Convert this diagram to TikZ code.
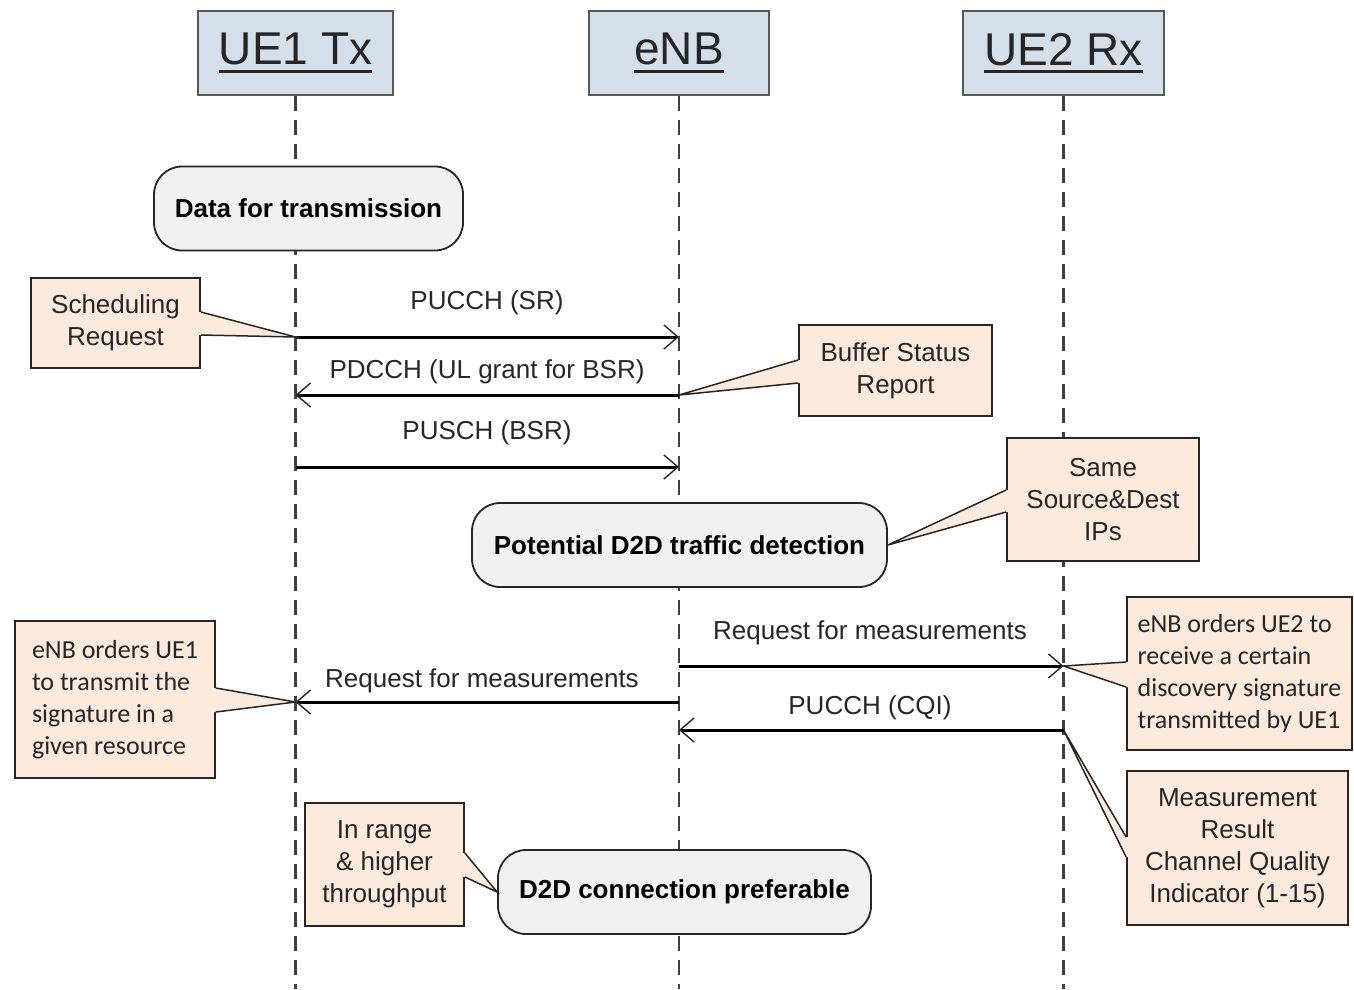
\documentclass[tikz,border=0pt]{standalone}
\usepackage{fontspec}
\setmainfont{Liberation Sans}
\newfontfamily\calfont{Carlito}
\usetikzlibrary{arrows.meta,calc}

\definecolor{hdrfill}{HTML}{D5DFEA}
\definecolor{hdrline}{HTML}{595959}
\definecolor{boxfill}{HTML}{F1F1F1}
\definecolor{notefill}{HTML}{FCEADC}
\definecolor{inkdark}{HTML}{262626}
\definecolor{lifegray}{HTML}{404040}

% underlined header title with a heavy bar
\newcommand{\hdul}[1]{\setbox0\hbox{#1}\rlap{\rule[-8pt]{\wd0}{2.6pt}}\box0}

% callout tail: base points #1,#2 on the box edge, tip #3, #4 = small inward shift
\newcommand{\notetail}[4]{%
  \fill[notefill] (#1) -- (#3) -- (#2) -- ($(#2)+(#4)$) -- ($(#1)+(#4)$) -- cycle;
  \draw[ptr] (#1) -- (#3) -- (#2);}

\tikzset{
  hdr/.style={draw=hdrline, line width=2.4pt, fill=hdrfill, minimum height=84pt,
    inner sep=0pt, font=\fontsize{46}{50}\selectfont, text=inkdark},
  event/.style={draw=inkdark, line width=1.8pt, fill=boxfill, rounded corners=28pt,
    minimum height=84pt, inner sep=0pt, font=\bfseries\fontsize{26}{32}\selectfont, text=black},
  note/.style={draw=inkdark, line width=1.8pt, fill=notefill, inner sep=0pt,
    font=\fontsize{26}{32}\selectfont, text=inkdark, align=center},
  calnote/.style={note, font=\calfont\fontsize{26}{32}\selectfont, align=left},
  lline/.style={draw=lifegray, line width=2.2pt, dash pattern=on 15pt off 9pt},
  msg/.style={draw=black, line width=3pt,
    -{Straight Barb[length=14pt,width=24pt,line width=1.4pt,color=inkdark]}},
  msglabel/.style={anchor=base, font=\fontsize{26}{32}\selectfont, text=inkdark, inner sep=0pt},
  ptr/.style={draw=inkdark, line width=1.5pt, line join=miter},
}

\begin{document}
\begin{tikzpicture}[x=1pt,y=-1pt]
\useasboundingbox (0,0) rectangle (1354,989);
\coordinate (bot) at (0,989);

% participants
\node[hdr, minimum width=195pt] (ue1) at (295.5,53) {\hdul{UE1 Tx}};
\node[hdr, minimum width=180pt] (enb) at (679,53) {\hdul{eNB}};
\node[hdr, minimum width=201pt] (ue2) at (1063.5,53) {\hdul{UE2 Rx}};

% lifelines
\draw[lline] (ue1.south) -- (ue1.south |- bot);
\draw[lline] (enb.south) -- (enb.south |- bot);
\draw[lline] (ue2.south) -- (ue2.south |- bot);

% message end points on the lifelines
\coordinate (a1) at (ue1.south |- 0,337);  \coordinate (b1) at (enb.south |- 0,337);
\coordinate (a2) at (ue1.south |- 0,395);  \coordinate (b2) at (enb.south |- 0,395);
\coordinate (a3) at (ue1.south |- 0,467);  \coordinate (b3) at (enb.south |- 0,467);
\coordinate (b4) at (enb.south |- 0,666);  \coordinate (c4) at (ue2.south |- 0,666);
\coordinate (a5) at (ue1.south |- 0,702);  \coordinate (b5) at (enb.south |- 0,702);
\coordinate (b6) at (enb.south |- 0,730);  \coordinate (c6) at (ue2.south |- 0,730);

% messages
\draw[msg] (a1) -- (b1);
\node[msglabel] (l1) at (487,309.5) {PUCCH (SR)};
\draw[msg] (b2) -- (a2);
\node[msglabel] (l2) at (487,378.5) {PDCCH (UL grant for BSR)};
\draw[msg] (a3) -- (b3);
\node[msglabel] (l3) at (487,439.5) {PUSCH (BSR)};
\draw[msg] (b4) -- (c4);
\node[msglabel] (l4) at (870,639.5) {Request for measurements};
\draw[msg] (b5) -- (a5);
\node[msglabel] (l5) at (482,687.5) {Request for measurements};
\draw[msg] (c6) -- (b6);
\node[msglabel] (l6) at (870,714.5) {PUCCH (CQI)};

% events
\node[event, minimum width=309pt] (data) at (308.5,208.5) {Data for transmission};
\node[event, minimum width=415pt] (pot) at (679.5,545) {Potential D2D traffic detection};
\node[event, minimum width=373pt] (d2d) at (684.5,892) {D2D connection preferable};

% notes
\node[note, minimum width=169pt, minimum height=90pt] (sr) at (115.5,323) {Scheduling\\Request};
\notetail{sr.east |- 0,312}{sr.east |- 0,335}{a1}{-3,0}

\node[note, minimum width=193pt, minimum height=91pt] (bsr) at (895.5,370.5) {Buffer Status\\Report};
\notetail{bsr.west |- 0,360}{bsr.west |- 0,383}{b2}{3,0}

\node[note, minimum width=192pt, minimum height=123pt] (same) at (1103,499.5) {Same\\Source\&Dest\\IPs};
\notetail{same.west |- 0,490}{same.west |- 0,512}{pot.east}{3,0}

\node[calnote, minimum width=200pt, minimum height=157pt] (ord1) at (115,699.5)
  {eNB orders UE1\\to transmit the\\signature in a\\given resource};
\notetail{ord1.east |- 0,688}{ord1.east |- 0,712}{a5}{-3,0}

\node[calnote, minimum width=225pt, minimum height=153pt] (ord2) at (1239.5,673.5)
  {eNB orders UE2 to\\receive a certain\\discovery signature\\transmitted by UE1};
\notetail{ord2.west |- 0,662}{ord2.west |- 0,687}{c4}{3,0}

\node[note, minimum width=221pt, minimum height=154pt] (meas) at (1237.5,848)
  {Measurement\\Result\\Channel Quality\\Indicator (1-15)};
\notetail{meas.west |- 0,837}{meas.west |- 0,857}{c6}{3,0}

\node[note, minimum width=159pt, minimum height=123pt] (inr) at (384.5,864.5)
  {In range\\\& higher\\throughput};
\notetail{inr.east |- 0,853}{inr.east |- 0,877}{d2d.west}{-3,0}
\end{tikzpicture}
\end{document}
